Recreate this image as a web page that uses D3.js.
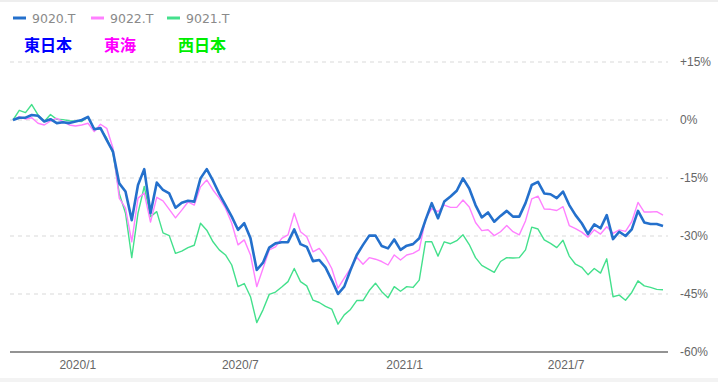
<!DOCTYPE html>
<html lang="ja">
<head>
    <meta charset="UTF-8">
    <title>JR 3社 株価騰落率</title>
    <script src="https://d3js.org/d3.v7.min.js"></script>
    <style>
        body { margin: 0; background: #fff; }
        #chart { width: 718px; height: 382px; }
    </style>
</head>
<body>
    <div id="chart"></div>

    <script>
        // weekly closes, % change from first week
        const startDate = new Date(2019, 9, 21);
        const endDate = new Date(2021, 9, 19);

        const tickDates = [new Date(2020, 0, 1), new Date(2020, 6, 1), new Date(2021, 0, 1), new Date(2021, 6, 1)];
        const tickLabels = ["2020/1", "2020/7", "2021/1", "2021/7"];
        const yTicks = [15, 0, -15, -30, -45, -60];

        const codes = ["9020.T", "9022.T", "9021.T"];
        const names = ["東日本", "東海", "西日本"];

        // 9020.T JR East
        const east = [0, 0.6, 0.6, 1.3, 1.1, -0.4, 0.2, -0.8, -0.6, -0.8,
            -0.4, 0, 0.8, -2.4, -2.1, -5.2, -8.2, -16.4, -18.5, -25.9,
            -16.8, -12.7, -24.1, -16.2, -18.1, -19.0, -22.7, -21.4, -20.9, -21.1,
            -15.1, -12.7, -15.7, -19.1, -22.0, -25.0, -28.4, -26.7, -30.6, -38.8,
            -36.9, -33.0, -31.9, -31.6, -31.6, -28.3, -32.1, -32.8, -36.5, -36.2,
            -38.1, -41.4, -45.0, -43.1, -38.8, -34.9, -32.3, -29.9, -29.9, -32.6,
            -33.2, -30.9, -33.6, -32.5, -32.1, -30.6, -25.9, -21.5, -25.4, -21.1,
            -19.8, -18.3, -15.1, -17.7, -22.0, -25.2, -23.9, -26.3, -24.8, -23.5,
            -25.0, -25.0, -21.5, -16.8, -16.0, -19.0, -19.2, -20.2, -18.5, -22.0,
            -24.6, -26.7, -29.5, -27.0, -28.0, -24.6, -30.8, -28.9, -30.0, -28.3,
            -23.5, -26.5, -26.9, -26.9, -27.4];

        // 9022.T JR Central
        const central = [0, 0.85, 0.26, 0.59, -0.85, -1.29, -0.26, 0.44, -0.44, -1.29,
            -1.55, -1.29, -0.85, -3.0, -1.1, -2.15, -7.3, -20.2, -22.8, -31.5,
            -20.2, -18.9, -26.4, -20.0, -20.9, -23.1, -25.3, -23.3, -21.2, -22.0,
            -17.3, -15.5, -18.1, -20.2, -22.8, -26.7, -32.3, -31.0, -34.9, -43.1,
            -38.4, -33.6, -32.8, -30.6, -29.7, -24.1, -28.9, -30.2, -34.1, -33.2,
            -35.4, -38.4, -43.5, -40.9, -38.4, -35.5, -37.3, -35.6, -36.0, -36.6,
            -37.5, -34.9, -36.2, -34.9, -34.5, -33.6, -25.6, -22.9, -23.7, -22.0,
            -22.6, -22.6, -20.7, -22.5, -26.5, -28.6, -28.4, -29.9, -28.9, -27.3,
            -28.9, -29.7, -26.1, -20.4, -19.7, -23.0, -23.1, -23.4, -22.4, -27.3,
            -28.1, -29.0, -30.3, -28.4, -29.5, -27.6, -29.3, -28.4, -28.8, -26.3,
            -21.3, -23.8, -23.8, -23.7, -24.6];

        // 9021.T JR West
        const west = [0, 2.5, 1.9, 4.0, 1.3, -0.4, 1.4, 0.2, 0.1, -0.2,
            -0.3, -0.4, 0.8, -2.4, -2.2, -4.7, -8.6, -19.0, -24.1, -35.6,
            -24.1, -17.2, -25.0, -23.7, -29.2, -29.9, -34.5, -33.9, -33.0, -32.4,
            -26.7, -28.5, -31.5, -33.6, -34.9, -37.5, -43.1, -42.3, -45.7, -52.4,
            -49.1, -45.1, -44.5, -43.2, -41.8, -38.4, -41.8, -42.9, -46.6, -47.2,
            -48.2, -48.9, -52.8, -50.4, -49.0, -46.7, -46.7, -44.1, -42.2, -44.4,
            -46.0, -43.1, -44.3, -43.1, -43.3, -41.4, -31.5, -31.5, -35.2, -31.5,
            -32.0, -31.2, -29.7, -32.2, -35.6, -37.6, -38.5, -39.4, -36.6, -35.6,
            -35.7, -35.6, -33.6, -27.7, -28.2, -31.0, -31.9, -33.0, -31.1, -35.2,
            -37.3, -38.1, -40.0, -38.4, -39.6, -35.9, -45.7, -45.3, -46.6, -44.6,
            -41.6, -42.9, -43.3, -43.8, -43.9];

        const dates = d3.timeMonday.range(startDate, endDate);

        const lineColors = ["#2470cc", "#ff80ff", "#44e08c"];
        const nameColors = ["#0000ff", "#ff00ff", "#00ee00"];
        const lineWidths = [2.6, 1.4, 1.4];

        const width = 718, height = 382;

        const svg = d3.select("#chart")
          .append("svg")
            .attr("width", width)
            .attr("height", height)
            .style("font-family", "'Liberation Sans', Arial, sans-serif");

        // faint frame strips top and bottom
        svg.append("rect").attr("x", 0).attr("y", 0).attr("width", width).attr("height", 2).attr("fill", "#eeeeee");
        svg.append("rect").attr("x", 0).attr("y", height - 4).attr("width", width).attr("height", 4).attr("fill", "#f3f3f3");

        const x = d3.scaleTime()
            .domain([dates[0], dates[dates.length - 1]])
            .range([13, 663]);

        const y = d3.scaleLinear()
            .domain([-60, 15])
            .range([352, 62]);

        // grid lines
        svg.append("g")
            .selectAll("line")
            .data(yTicks.filter(d => d > -60))
            .join("line")
                .attr("x1", 10)
                .attr("x2", 668)
                .attr("y1", d => y(d))
                .attr("y2", d => y(d))
                .attr("stroke", "#d9d9d9")
                .attr("stroke-width", 1)
                .attr("stroke-dasharray", "4,4");

        // baseline
        svg.append("line")
            .attr("x1", 10)
            .attr("x2", 668)
            .attr("y1", y(-60))
            .attr("y2", y(-60))
            .attr("stroke", "#6f6f6f")
            .attr("stroke-width", 1.5);

        // y labels on the right
        const yAxis = d3.axisRight(y)
            .tickValues(yTicks)
            .tickSize(0)
            .tickPadding(0)
            .tickFormat(d => (d > 0 ? "+" : "") + d + "%");
        svg.append("g")
            .attr("transform", "translate(680,0)")
            .call(yAxis)
            .call(g => g.select(".domain").remove())
            .selectAll("text")
                .attr("fill", "#666")
                .style("font-size", "12px");

        // x labels
        const xAxis = d3.axisBottom(x)
            .tickValues(tickDates)
            .tickSize(0)
            .tickPadding(8)
            .tickFormat((d, i) => tickLabels[i]);
        svg.append("g")
            .attr("transform", `translate(0,${y(-60)})`)
            .call(xAxis)
            .call(g => g.select(".domain").remove())
            .selectAll("text")
                .attr("fill", "#666")
                .style("font-size", "12px");

        // lines, drawn west first so east sits on top
        const series = [east, central, west];
        const line = d3.line()
            .x((d, i) => x(dates[i]))
            .y(d => y(d));

        [2, 1, 0].forEach(k => {
            svg.append("path")
                .datum(series[k])
                .attr("fill", "none")
                .attr("stroke", lineColors[k])
                .attr("stroke-width", lineWidths[k])
                .attr("stroke-linejoin", "round")
                .attr("d", line);
        });

        // legend
        const legendX = [13, 91, 167];
        const legend = svg.append("g");
        codes.forEach((c, k) => {
            legend.append("line")
                .attr("x1", legendX[k])
                .attr("x2", legendX[k] + 13)
                .attr("y1", 18)
                .attr("y2", 18)
                .attr("stroke", lineColors[k])
                .attr("stroke-width", 3);
            legend.append("text")
                .attr("x", legendX[k] + 19)
                .attr("y", 22.5)
                .attr("fill", "#8a8a8a")
                .style("font-family", "'DejaVu Sans', Verdana, sans-serif")
                .style("font-size", "12.5px")
                .text(c);
        });

        // japanese company names
        const nameX = [24, 104, 178];
        names.forEach((n, k) => {
            svg.append("text")
                .attr("x", nameX[k])
                .attr("y", 51)
                .attr("fill", nameColors[k])
                .style("font-family", "'Noto Sans CJK JP', sans-serif")
                .style("font-weight", "bold")
                .style("font-size", "16px")
                .text(n);
        });
    </script>
</body>
</html>
